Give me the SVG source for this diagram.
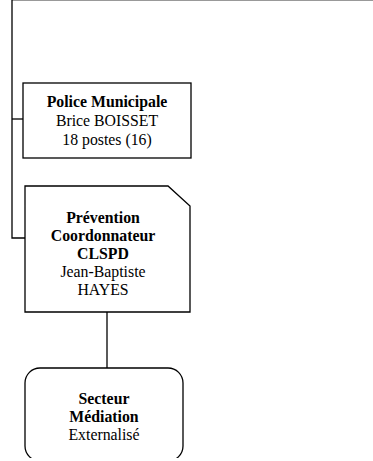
<svg xmlns="http://www.w3.org/2000/svg" width="373" height="461" viewBox="0 0 373 461">
<defs>
<style>
.box{fill:#fff;stroke:#000;stroke-width:1.3}
.conn{fill:none;stroke:#000;stroke-width:1.3}
text{font-family:"Liberation Serif","Times New Roman",serif;font-size:15.8px;fill:#000;text-anchor:middle}
.b{font-weight:bold}
</style>
<clipPath id="cut"><rect x="0" y="0" width="373" height="458"/></clipPath>
</defs>
<rect width="373" height="461" fill="#fff"/>
<g id="connectors">
<line x1="12" y1="0.5" x2="373" y2="0.5" stroke="#999" stroke-width="1.2"/>
<polyline class="conn" points="12,0 12,238 25,238"/>
<line class="conn" x1="12" y1="119" x2="23" y2="119"/>
<line class="conn" x1="107" y1="312" x2="107" y2="368"/>
</g>
<g id="police">
<rect class="box" x="23" y="83" width="168" height="75"/>
<text class="b" x="107" y="107">Police Municipale</text>
<text x="107" y="126">Brice BOISSET</text>
<text x="107" y="145">18 postes (16)</text>
</g>
<g id="prevention">
<path class="box" d="M25,186 H168 L190,206 V312 H25 Z"/>
<text class="b" x="103" y="223">Prévention</text>
<text class="b" x="103" y="241">Coordonnateur</text>
<text class="b" x="103" y="259">CLSPD</text>
<text x="103" y="277">Jean-Baptiste</text>
<text x="103" y="295">HAYES</text>
</g>
<g id="mediation" clip-path="url(#cut)">
<rect class="box" x="25" y="368" width="158" height="93" rx="15" ry="15"/>
<text class="b" x="104" y="404">Secteur</text>
<text class="b" x="104" y="422">Médiation</text>
<text x="104" y="440">Externalisé</text>
</g>
</svg>
